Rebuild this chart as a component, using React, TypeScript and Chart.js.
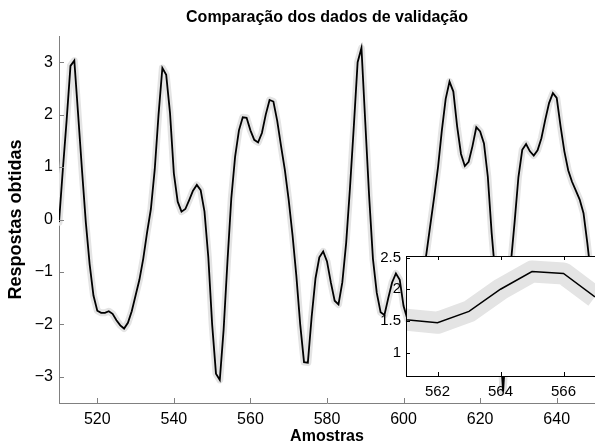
import React, { useEffect, useRef } from "react";
import { Chart, registerables } from "chart.js";

Chart.register(...registerables);

const FONT = "'Liberation Sans', Arial, Helvetica, sans-serif";

// ---- data ----
const sampleStart = 510; // first sample index (Amostras)
const respostas: number[] = [
  -0.05, 0.95, 1.9, 2.93, 3.03, 2.0, 0.95, -0.05, -0.85, -1.45, // 510-519
  -1.74, -1.78, -1.78, -1.75, -1.8, -1.92, -2.02, -2.08, -1.97, -1.75, // 520-529
  -1.45, -1.15, -0.75, -0.25, 0.2, 0.95, 2.0, 2.89, 2.76, 2.03, // 530-539
  0.88, 0.34, 0.15, 0.2, 0.37, 0.55, 0.66, 0.56, 0.15, -0.72, // 540-549
  -2.0, -2.94, -3.06, -2.1, -0.8, 0.4, 1.2, 1.7, 1.95, 1.94, // 550-559
  1.7, 1.52, 1.47, 1.65, 2.0, 2.28, 2.25, 1.88, 1.4, 0.94, // 560-569
  0.37, -0.3, -1.08, -2.0, -2.72, -2.73, -1.85, -1.12, -0.72, -0.61, // 570-579
  -0.8, -1.2, -1.55, -1.62, -1.2, -0.45, 0.6, 1.77, 3.0, 3.27, // 580-589
  1.85, 0.45, -0.75, -1.4, -1.77, -1.82, -1.5, -1.2, -1.03, -1.15, // 590-599
  -1.65, -1.9, -1.95, -1.8, -1.5, -1.15, -0.63, -0.1, 0.43, 1.0, // 600-609
  1.7, 2.3, 2.63, 2.44, 1.77, 1.25, 1.02, 1.1, 1.4, 1.76, // 610-619
  1.68, 1.45, 0.82, -0.25, -1.1, -2.2, -3.28, -2.1, -0.85, -0.05, // 620-629
  0.81, 1.33, 1.44, 1.3, 1.22, 1.32, 1.55, 1.9, 2.22, 2.41, // 630-639
  2.32, 1.78, 1.3, 0.94, 0.72, 0.55, 0.38, 0.12, -0.45, -1.1, // 640-649
  -1.7, // 650
];

const mainXTicks = [520, 540, 560, 580, 600, 620, 640];
const mainYTicks = [-3, -2, -1, 0, 1, 2, 3];
const insetXTicks = [562, 564, 566];
const insetYTicks = [1, 1.5, 2, 2.5];

const titleText = "Comparação dos dados de validação";
const xLabel = "Amostras";
const yLabel = "Respostas obtidas";

const points = respostas.map((v, i) => ({ x: sampleStart + i, y: v }));

const fmt = (v: number) => (v < 0 ? "\u2212" + Math.abs(v) : String(v));

function inwardTicks(id: string, color: string, len: number, sides: { left?: boolean; bottom?: boolean; top?: boolean }) {
  return {
    id,
    afterDraw(chart: any) {
      const { ctx, chartArea: a, scales } = chart;
      const xs = scales.x;
      const ys = scales.y;
      ctx.save();
      ctx.strokeStyle = color;
      ctx.lineWidth = 1;
      ctx.beginPath();
      if (sides.left) {
        for (const t of ys.ticks) {
          const p = Math.round(ys.getPixelForValue(t.value)) + 0.5;
          ctx.moveTo(a.left, p);
          ctx.lineTo(a.left + len, p);
        }
      }
      if (sides.bottom) {
        for (const t of xs.ticks) {
          const p = Math.round(xs.getPixelForValue(t.value)) + 0.5;
          ctx.moveTo(p, a.bottom);
          ctx.lineTo(p, a.bottom - len);
        }
      }
      if (sides.top) {
        for (const t of xs.ticks) {
          const p = Math.round(xs.getPixelForValue(t.value)) + 0.5;
          ctx.moveTo(p, a.top);
          ctx.lineTo(p, a.top + len);
        }
      }
      ctx.stroke();
      ctx.restore();
    },
  };
}

const insetFrame = {
  id: "insetFrame",
  beforeDraw(chart: any) {
    const { ctx, chartArea: a } = chart;
    ctx.save();
    ctx.fillStyle = "#ffffff";
    ctx.fillRect(a.left, a.top, a.right - a.left, a.bottom - a.top);
    ctx.restore();
  },
  afterDraw(chart: any) {
    const { ctx, chartArea: a } = chart;
    ctx.save();
    ctx.strokeStyle = "#000000";
    ctx.lineWidth = 1;
    ctx.strokeRect(a.left + 0.5, a.top + 0.5, a.right - a.left, a.bottom - a.top);
    ctx.restore();
  },
};

export default function App() {
  const mainRef = useRef<HTMLCanvasElement>(null);
  const insetRef = useRef<HTMLCanvasElement>(null);

  useEffect(() => {
    Chart.defaults.font.family = FONT;
    const main = new Chart(mainRef.current!, {
      type: "line",
      data: {
        datasets: [
          {
            data: points,
            borderColor: "#000000",
            borderWidth: 1.8,
            pointRadius: 0,
            tension: 0,
          },
          {
            data: points,
            borderColor: "#e4e4e4",
            borderWidth: 7,
            borderJoinStyle: "round",
            borderCapStyle: "round",
            pointRadius: 0,
            tension: 0,
          },
        ],
      },
      options: {
        responsive: false,
        animation: false,
        events: [],
        layout: { padding: { top: 0, right: 0, bottom: 0, left: 0 } },
        plugins: {
          legend: { display: false },
          tooltip: { enabled: false },
          title: {
            display: true,
            text: titleText,
            fullSize: false,
            color: "#000",
            font: { size: 16, weight: "bold", family: FONT },
            padding: { top: 8, bottom: 8.8 },
          },
        },
        scales: {
          x: {
            type: "linear",
            min: 510,
            max: 650,
            afterBuildTicks: (s: any) => {
              s.ticks = mainXTicks.map((v) => ({ value: v }));
            },
            afterFit: (s: any) => {
              s.height = 43;
            },
            ticks: {
              color: "#000",
              font: { size: 16, family: FONT },
              padding: 7,
              maxRotation: 0,
              autoSkip: false,
              callback: (v: any) => fmt(Number(v)),
            },
            grid: { display: true, drawOnChartArea: false, drawTicks: false },
            border: { display: true, color: "#808080", width: 1 },
            title: {
              display: true,
              text: xLabel,
              color: "#000",
              font: { size: 16, weight: "bold", family: FONT },
              padding: { top: 0, bottom: 0 },
            },
          },
          y: {
            type: "linear",
            min: -3.5,
            max: 3.5,
            afterBuildTicks: (s: any) => {
              s.ticks = mainYTicks.map((v) => ({ value: v }));
            },
            afterFit: (s: any) => {
              s.width = 59;
            },
            ticks: {
              color: "#000",
              font: { size: 16, family: FONT },
              padding: 6,
              callback: (v: any) => fmt(Number(v)),
            },
            grid: { display: true, drawOnChartArea: false, drawTicks: false },
            border: { display: true, color: "#808080", width: 1 },
            title: {
              display: true,
              text: yLabel,
              color: "#000",
              font: { size: 18, weight: "bold", family: FONT },
              padding: { top: 5, bottom: 0 },
            },
          },
        },
      },
      plugins: [inwardTicks("mainTicks", "#808080", 5, { left: true, bottom: true })],
    } as any);

    const inset = new Chart(insetRef.current!, {
      type: "line",
      data: {
        datasets: [
          {
            data: points,
            borderColor: "#000000",
            borderWidth: 1.5,
            pointRadius: 0,
            tension: 0,
            clip: 0,
          },
          {
            data: points,
            borderColor: "#e4e4e4",
            borderWidth: 22,
            borderJoinStyle: "round",
            pointRadius: 0,
            tension: 0,
            clip: 0,
          },
        ],
      },
      options: {
        responsive: false,
        animation: false,
        events: [],
        layout: { padding: { top: 16, right: 0, bottom: 0, left: 0 } },
        plugins: {
          legend: { display: false },
          tooltip: { enabled: false },
          title: { display: false },
        },
        scales: {
          x: {
            type: "linear",
            min: 561,
            max: 567,
            afterBuildTicks: (s: any) => {
              s.ticks = insetXTicks.map((v) => ({ value: v }));
            },
            afterFit: (s: any) => {
              s.height = 34;
            },
            ticks: {
              color: "#000",
              font: { size: 15, family: FONT },
              padding: 7,
              maxRotation: 0,
              autoSkip: false,
              callback: (v: any) => fmt(Number(v)),
            },
            grid: { display: true, drawOnChartArea: false, drawTicks: false },
            border: { display: false },
          },
          y: {
            type: "linear",
            min: 0.63,
            max: 2.525,
            afterBuildTicks: (s: any) => {
              s.ticks = insetYTicks.map((v) => ({ value: v }));
            },
            afterFit: (s: any) => {
              s.width = 36;
            },
            ticks: {
              color: "#000",
              font: { size: 15, family: FONT },
              padding: 5,
              callback: (v: any) => fmt(Number(v)),
            },
            grid: { display: true, drawOnChartArea: false, drawTicks: false },
            border: { display: false },
          },
        },
      },
      plugins: [insetFrame, inwardTicks("insetTicks", "#000000", 4, { left: true, bottom: true, top: true })],
    } as any);

    return () => {
      main.destroy();
      inset.destroy();
    };
  }, []);

  return (
    <div style={{ position: "fixed", left: 0, top: 0, width: 595, height: 446, background: "#fff", overflow: "hidden" }}>
      <canvas ref={mainRef} width={595} height={446} style={{ position: "absolute", left: 0, top: 0 }} />
      <canvas ref={insetRef} width={225} height={170} style={{ position: "absolute", left: 370, top: 240 }} />
    </div>
  );
}
